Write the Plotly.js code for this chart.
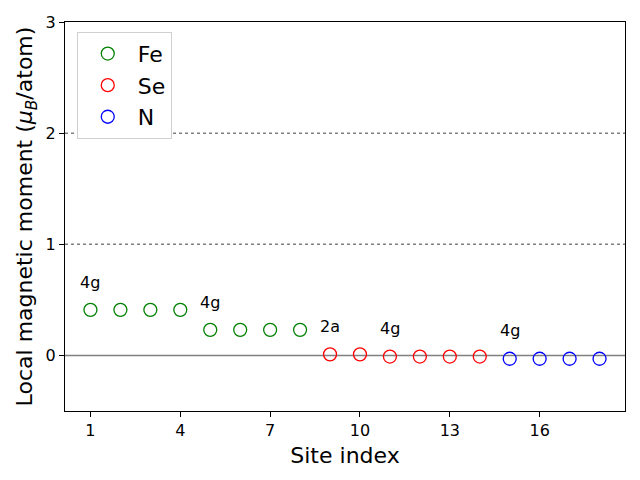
<!DOCTYPE html>
<html>
<head>
<meta charset="utf-8">
<script src="https://cdn.plot.ly/plotly-3.0.1.min.js"></script>
<style>html,body{margin:0;padding:0;background:#fff;}#chart{width:640px;height:480px;}</style>
</head>
<body>
<div id="chart"></div>
<script>
// Data
const feSites = [1, 2, 3, 4, 5, 6, 7, 8];
const feMoments = [0.41, 0.41, 0.41, 0.41, 0.23, 0.23, 0.23, 0.23];
const seSites = [9, 10, 11, 12, 13, 14];
const seMoments = [0.01, 0.01, -0.01, -0.01, -0.01, -0.01];
const nSites = [15, 16, 17, 18];
const nMoments = [-0.03, -0.03, -0.03, -0.03];
const wyckoffLabels = ["4g", "4g", "2a", "4g", "4g"];
const wyckoffX = [1, 5, 9, 11, 15];
const wyckoffY = [0.66, 0.48, 0.26, 0.24, 0.22];
const dottedLevels = [1, 2];
const solidLevels = [0];
const xTicks = [1, 4, 7, 10, 13, 16];
const yTicks = [0, 1, 2, 3];

const FONT = "DejaVu Sans, sans-serif";

function series(name, x, y, color) {
  return {
    type: "scatter", mode: "markers", name: name, x: x, y: y,
    marker: { symbol: "circle-open", size: 13, color: color, line: { color: color, width: 1.3 } }
  };
}

const traces = [
  series("Fe", feSites, feMoments, "green"),
  series("Se", seSites, seMoments, "red"),
  series("N", nSites, nMoments, "blue")
];

const shapes = [];
dottedLevels.forEach(v => shapes.push({
  type: "line", xref: "paper", x0: 0, x1: 1, yref: "y", y0: v, y1: v,
  line: { color: "gray", width: 1.5, dash: "dot" }, layer: "below"
}));
solidLevels.forEach(v => shapes.push({
  type: "line", xref: "paper", x0: 0, x1: 1, yref: "y", y0: v, y1: v,
  line: { color: "gray", width: 1.5 }, layer: "below"
}));

const annotations = wyckoffLabels.map((t, i) => ({
  x: wyckoffX[i], y: wyckoffY[i], xref: "x", yref: "y", text: t, showarrow: false,
  font: { family: FONT, size: 16, color: "black" }
}));

const layout = {
  width: 640, height: 480,
  margin: { l: 65, r: 15, t: 22, b: 69 },
  paper_bgcolor: "white", plot_bgcolor: "white",
  font: { family: FONT, color: "black" },
  showlegend: true,
  legend: {
    x: 0.021, y: 0.975, xanchor: "left", yanchor: "top",
    bgcolor: "white", bordercolor: "#d0d0d0", borderwidth: 1,
    font: { family: FONT, size: 22, color: "black" },
    tracegroupgap: 0, itemwidth: 50, entrywidth: 112, entrywidthmode: "pixels"
  },
  xaxis: {
    range: [0.15, 18.85], tickmode: "array", tickvals: xTicks, ticktext: xTicks.map(String),
    showgrid: false, zeroline: false, showline: true, mirror: true, linecolor: "black", linewidth: 1,
    ticks: "outside", ticklen: 5, tickcolor: "black",
    tickfont: { family: FONT, size: 16 },
    title: { text: "Site index", font: { family: FONT, size: 22 }, standoff: 8 }
  },
  yaxis: {
    range: [-0.5, 3], tickmode: "array", tickvals: yTicks, ticktext: yTicks.map(String),
    showgrid: false, zeroline: false, showline: true, mirror: true, linecolor: "black", linewidth: 1,
    ticks: "outside", ticklen: 5, tickcolor: "black",
    tickfont: { family: FONT, size: 16 },
    title: { text: "Local magnetic moment (<i>μ</i><sub><i>B</i></sub>/atom)", font: { family: FONT, size: 22 }, standoff: 6 }
  },
  shapes: shapes,
  annotations: annotations
};

Plotly.newPlot("chart", traces, layout, { displayModeBar: false, staticPlot: true });
</script>
</body>
</html>
